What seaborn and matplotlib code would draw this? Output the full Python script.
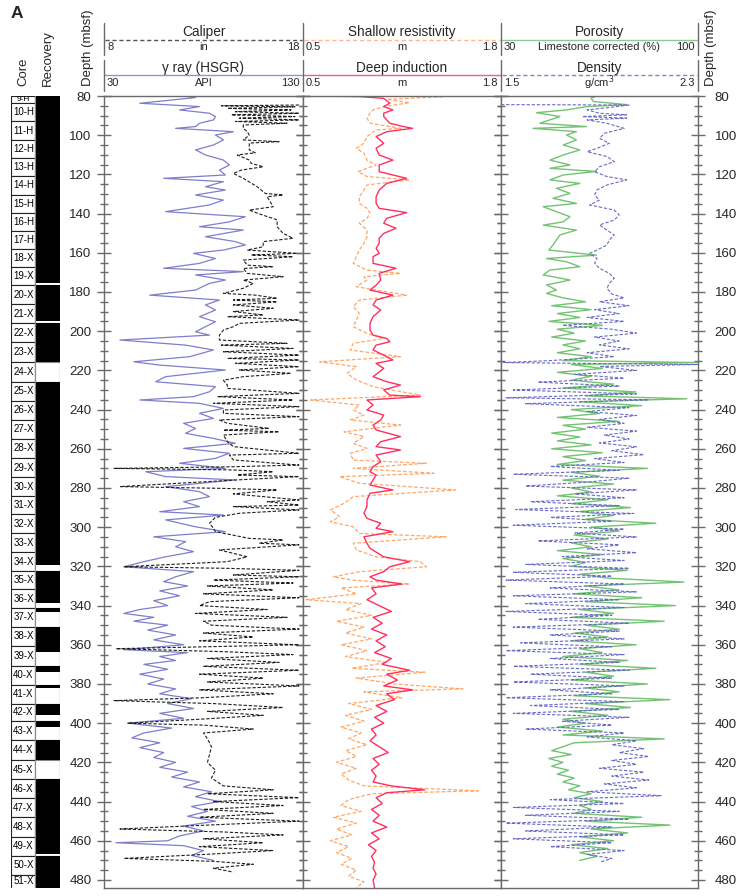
import numpy as np
import seaborn as sns
import matplotlib.pyplot as plt
from matplotlib.ticker import MultipleLocator

# ---- cores ----
core_names = ['9-H', '10-H', '11-H', '12-H', '13-H', '14-H', '15-H', '16-H', '17-H', '18-X',
              '19-X', '20-X', '21-X', '22-X', '23-X', '24-X', '25-X', '26-X', '27-X', '28-X',
              '29-X', '30-X', '31-X', '32-X', '33-X', '34-X', '35-X', '36-X', '37-X', '38-X',
              '39-X', '40-X', '41-X', '42-X', '43-X', '44-X', '45-X', '46-X', '47-X', '48-X',
              '49-X', '50-X', '51-X']
core_top = [80.0, 83.6, 93.0, 102.4, 111.7, 121.0, 130.3, 139.6, 148.9, 158.2,
            167.5, 176.6, 186.2, 195.9, 205.7, 215.9, 225.9, 235.6, 245.3, 255.0,
            264.7, 274.6, 284.2, 293.5, 303.1, 312.8, 322.4, 331.7, 341.2, 350.9,
            360.6, 370.6, 380.4, 390.2, 398.9, 408.6, 418.8, 428.5, 438.2, 447.9,
            457.9, 467.8, 477.4]
core_base = 487.0
core_recovery = [1, 1, 1, 1, 1, 1, 1, 1, 1, 1,
                 0.86, 1, 0.9, 1, 1, 0.0, 1, 1, 1, 1,
                 1, 1, 1, 1, 1, 0.68, 1, 0.74, 0.2, 1,
                 0.3, 0.32, 0.15, 0.65, 0.3, 1, 0.0, 1, 1, 1,
                 0.9, 1, 1]

# ---- logs: (depth mbsf, value) ----
gamma_ray = [(80.0, 70), (80.8, 76), (83.7, 48), (85.4, 78), (87.1, 68), (88.8, 83), (90.5, 86),
             (92.2, 85), (93.9, 78), (95.6, 76), (96.5, 66), (98.2, 95), (99.9, 86), (102.4, 90),
             (105.0, 85), (107.5, 76), (110.1, 81), (112.7, 90), (115.2, 93), (117.8, 88),
             (120.3, 91), (122.0, 60), (123.7, 90), (126.3, 81), (128.0, 91), (130.5, 76),
             (133.1, 90), (135.6, 83), (139.0, 61), (141.6, 101), (144.2, 93), (146.7, 78),
             (148.4, 100), (151.8, 81), (154.3, 96), (156.0, 101), (158.6, 90), (160.3, 75),
             (162.9, 86), (165.4, 78), (167.9, 60), (169.6, 100), (171.3, 76), (173.9, 91),
             (175.6, 83), (179.0, 76), (181.6, 53), (184.1, 88), (186.6, 81), (189.2, 86),
             (192.6, 78), (195.2, 86), (197.7, 81), (200.3, 76), (202.0, 83), (204.5, 38),
             (207.1, 71), (209.6, 85), (213.0, 73), (215.6, 45), (217.3, 58), (219.8, 91),
             (223.2, 61), (225.8, 56), (228.3, 86), (230.9, 83), (233.4, 75), (235.1, 48),
             (236.8, 78), (239.4, 90), (241.9, 78), (244.5, 85), (247.0, 70), (249.6, 76),
             (252.1, 71), (254.7, 85), (257.2, 96), (259.8, 70), (262.3, 93), (264.9, 86),
             (267.4, 68), (270.0, 91), (271.7, 51), (274.2, 61), (275.9, 96), (279.3, 61),
             (281.9, 78), (284.4, 83), (287.0, 70), (289.5, 78), (292.1, 58), (293.8, 90),
             (296.3, 61), (299.8, 76), (302.3, 91), (304.9, 55), (307.4, 71), (310.0, 66),
             (312.5, 75), (315.1, 61), (317.6, 50), (320.2, 40), (322.7, 75), (325.3, 66),
             (327.8, 60), (330.0, 72), (332.5, 58), (335.0, 68), (337.5, 55), (340.0, 62),
             (342.0, 48), (344.0, 40), (346.0, 55), (348.0, 45), (350.0, 62), (352.5, 52),
             (355.0, 66), (357.5, 55), (360.0, 70), (362.5, 40), (364.0, 72), (366.0, 58),
             (368.0, 66), (370.0, 50), (372.5, 62), (375.0, 48), (377.5, 60), (380.0, 52),
             (382.5, 66), (385.0, 58), (387.5, 74), (390.0, 62), (392.5, 75), (395.0, 58),
             (397.5, 70), (400.0, 42), (402.5, 64), (405.0, 50), (407.5, 44), (410.0, 58),
             (412.5, 48), (415.0, 60), (417.5, 55), (420.0, 66), (422.5, 58), (425.0, 72),
             (427.5, 64), (430.0, 78), (432.5, 70), (435.0, 84), (437.5, 76), (440.0, 88),
             (442.5, 74), (445.0, 82), (447.5, 72), (450.0, 86), (452.5, 70), (455.0, 80),
             (457.5, 68), (460.0, 62), (461.0, 36), (462.5, 70), (465.0, 80), (467.5, 74),
             (470.0, 85)]

caliper = [(84.6, 17.8), (85.0, 13.9), (85.5, 17.6), (86.3, 14.2), (87.1, 17.4), (88.0, 14.6),
           (88.8, 17.8), (89.6, 14.4), (90.5, 17.6), (91.3, 14.8), (92.2, 17.8), (93.0, 14.6),
           (93.9, 17.2), (94.8, 15.0), (96.5, 15.0), (98.2, 15.2), (100.0, 15.3), (102.4, 15.0),
           (103.3, 16.8), (104.0, 15.3), (107.5, 15.3), (109.0, 15.6), (110.1, 14.7), (112.7, 15.3),
           (114.4, 15.4), (116.1, 16.0), (117.8, 14.9), (119.5, 14.5), (122.0, 15.0), (126.3, 15.7),
           (129.7, 16.1), (130.5, 17.0), (131.4, 16.2), (136.5, 16.5), (138.2, 15.3), (139.8, 15.7),
           (143.2, 16.7), (146.7, 16.7), (150.1, 17.0), (152.6, 17.5), (154.3, 16.0), (156.9, 16.0),
           (158.6, 15.2), (160.3, 17.7), (161.1, 15.4), (162.0, 17.5), (163.7, 15.0), (166.3, 15.2),
           (167.1, 16.5), (168.0, 15.0), (170.5, 15.2), (172.2, 17.0), (173.9, 15.0), (175.6, 15.5),
           (178.1, 15.0), (180.7, 14.0), (181.6, 15.6), (183.2, 16.7), (184.1, 14.5), (185.0, 16.7),
           (186.6, 14.5), (188.3, 16.5), (190.0, 14.5), (191.7, 16.0), (192.6, 14.2), (194.3, 17.8),
           (196.0, 14.8), (197.7, 14.5), (199.4, 14.0), (202.0, 13.8), (204.5, 13.8), (206.2, 17.2),
           (207.1, 13.9), (208.8, 17.5), (210.5, 14.0), (212.2, 17.8), (213.9, 14.2), (214.7, 17.8),
           (216.4, 14.6), (218.1, 17.8), (219.8, 14.8), (221.5, 17.4), (223.2, 15.0), (225.0, 14.0),
           (227.5, 14.2), (229.2, 14.2), (231.7, 17.8), (233.4, 13.7), (235.1, 17.5), (236.8, 13.5),
           (238.5, 17.8), (240.2, 14.0), (241.9, 14.0), (243.6, 17.8), (245.3, 13.8), (247.0, 14.2),
           (249.6, 16.3), (250.5, 14.0), (251.3, 16.8), (253.0, 14.0), (256.4, 14.2), (258.9, 14.5),
           (262.3, 17.8), (263.2, 14.3), (265.7, 14.5), (268.3, 17.8), (269.2, 14.3), (270.0, 8.5),
           (270.8, 14.5), (271.7, 16.5), (273.4, 14.7), (274.2, 17.8), (276.0, 14.5), (279.3, 8.8),
           (280.2, 14.0), (281.0, 16.7), (283.0, 14.5), (286.1, 17.8), (287.0, 16.2), (288.7, 17.8),
           (289.5, 14.5), (291.2, 17.8), (292.9, 14.8), (295.0, 13.6), (298.0, 13.3), (300.6, 13.5),
           (302.3, 13.6), (305.7, 15.3), (306.5, 17.0), (308.2, 15.8), (309.0, 17.8), (311.6, 13.8),
           (315.1, 15.2), (317.6, 14.2), (320.2, 9.0), (321.0, 14.2), (322.0, 17.8), (324.4, 14.5),
           (325.3, 17.8), (327.0, 13.5), (328.5, 17.5), (330.0, 13.2), (332.0, 16.5), (334.0, 13.0),
           (336.0, 17.8), (338.0, 13.3), (340.0, 12.8), (342.0, 16.2), (344.0, 12.6), (346.0, 17.2),
           (348.0, 13.0), (350.0, 13.4), (352.0, 17.8), (354.0, 13.0), (356.0, 15.5), (358.0, 12.8),
           (360.0, 17.8), (362.0, 8.6), (363.5, 14.0), (365.0, 17.5), (367.0, 13.2), (369.0, 16.8),
           (371.0, 13.0), (373.0, 17.8), (375.0, 12.8), (377.0, 16.0), (379.0, 13.2), (381.0, 17.8),
           (383.0, 12.8), (385.0, 16.5), (387.0, 13.0), (388.5, 8.5), (390.0, 13.5), (392.0, 17.0),
           (394.0, 13.2), (396.0, 16.0), (398.0, 12.8), (400.0, 9.2), (401.0, 13.0), (403.0, 15.5),
           (405.0, 13.0), (408.0, 13.2), (412.0, 13.4), (416.0, 13.3), (420.0, 13.2), (424.0, 13.6),
           (428.0, 13.4), (432.0, 14.0), (434.0, 16.5), (436.0, 13.2), (438.0, 17.8), (440.0, 13.5),
           (442.0, 17.0), (444.0, 13.0), (446.0, 16.5), (448.0, 12.8), (450.0, 17.8), (452.0, 13.2),
           (454.0, 8.8), (455.5, 14.0), (457.0, 17.0), (459.0, 13.0), (461.0, 16.0), (463.0, 12.8),
           (465.0, 16.5), (467.0, 13.0), (469.0, 9.0), (470.5, 13.5), (472.0, 15.5), (474.0, 13.5),
           (476.0, 14.5)]

shallow_res = [(80.4, 1.42), (81.7, 1.05), (83.4, 1.20), (85.4, 1.03), (87.1, 0.96), (88.8, 0.94),
               (91.3, 0.92), (93.9, 0.94), (96.5, 1.14), (97.3, 0.98), (100.7, 0.92), (104.1, 0.90),
               (106.7, 0.85), (109.2, 0.90), (112.7, 0.92), (115.2, 0.98), (118.6, 0.86), (121.1, 0.92),
               (122.8, 1.20), (125.4, 0.92), (128.0, 0.90), (131.4, 0.87), (134.8, 0.87), (137.3, 0.92),
               (139.9, 0.94), (142.4, 0.92), (144.9, 0.87), (148.4, 0.92), (151.8, 0.92), (155.2, 0.90),
               (158.6, 0.87), (162.0, 0.85), (165.4, 0.83), (168.8, 0.92), (170.5, 1.14), (172.2, 0.90),
               (173.9, 0.92), (177.3, 0.85), (181.6, 1.18), (184.1, 0.87), (187.5, 0.83), (190.9, 0.87),
               (194.3, 0.85), (197.7, 0.83), (201.1, 0.92), (203.7, 1.03), (206.2, 0.83), (209.6, 0.81),
               (213.0, 1.14), (215.6, 0.61), (218.1, 0.85), (221.5, 0.79), (224.9, 0.85), (228.3, 0.96),
               (232.6, 1.27), (235.1, 0.55), (237.7, 0.87), (240.2, 0.83), (242.8, 0.90), (245.3, 0.81),
               (247.9, 1.14), (251.3, 0.77), (253.8, 0.90), (257.2, 0.83), (259.8, 0.92), (262.3, 0.81),
               (265.8, 0.83), (267.4, 1.31), (270.0, 0.83), (272.5, 1.36), (274.2, 0.74), (277.6, 0.87),
               (281.0, 1.50), (284.4, 0.83), (287.8, 0.77), (291.2, 0.68), (294.6, 0.74), (297.2, 0.68),
               (299.8, 0.83), (303.2, 0.87), (304.9, 1.44), (308.2, 0.83), (311.6, 0.85), (315.1, 0.98),
               (317.6, 1.27), (320.2, 1.31), (322.7, 0.87), (325.3, 0.70), (327.0, 0.82), (329.0, 1.20),
               (331.0, 0.75), (334.0, 0.85), (337.0, 0.52), (339.0, 0.88), (342.0, 0.78), (345.0, 0.95),
               (348.0, 0.72), (351.0, 0.90), (354.0, 0.78), (357.0, 0.95), (360.0, 0.75), (363.0, 0.92),
               (366.0, 0.78), (369.0, 1.05), (372.0, 0.82), (374.0, 1.30), (377.0, 0.85), (380.0, 1.10),
               (382.5, 1.55), (384.0, 0.90), (387.0, 1.15), (390.0, 0.80), (393.0, 0.95), (396.0, 0.78),
               (399.0, 0.90), (402.0, 0.75), (405.0, 0.88), (408.0, 0.80), (411.0, 0.92), (414.0, 0.78),
               (417.0, 0.85), (420.0, 0.72), (423.0, 0.85), (426.0, 0.75), (429.0, 0.80), (432.0, 0.90),
               (434.5, 1.65), (436.0, 0.95), (439.0, 0.80), (442.0, 0.75), (445.0, 0.88), (448.0, 0.70),
               (451.0, 0.85), (454.0, 0.72), (457.0, 0.82), (460.0, 0.68), (463.0, 0.80), (466.0, 0.72),
               (469.0, 0.82), (472.0, 0.75), (475.0, 0.85), (478.0, 0.80), (481.0, 0.90), (484.0, 0.85)]

deep_ind = [(80.0, 0.50), (80.3, 0.87), (81.2, 1.03), (83.7, 1.07), (85.4, 1.03), (87.1, 1.09),
            (88.8, 1.03), (90.5, 1.03), (93.9, 1.07), (95.6, 1.16), (96.5, 1.22), (98.2, 1.05),
            (100.7, 0.98), (104.1, 1.03), (106.7, 0.98), (110.1, 1.00), (112.7, 1.09), (115.2, 1.00),
            (118.6, 1.00), (122.0, 1.18), (124.6, 1.05), (128.0, 1.00), (131.4, 0.98), (134.8, 0.98),
            (137.3, 1.00), (139.5, 1.18), (142.4, 1.05), (144.9, 1.03), (147.5, 1.11), (150.1, 1.03),
            (152.6, 1.00), (155.2, 1.00), (157.7, 0.98), (160.3, 1.00), (162.0, 0.96), (165.4, 0.96),
            (167.9, 1.11), (170.5, 1.00), (173.9, 1.01), (176.5, 0.98), (179.0, 0.94), (181.6, 1.09),
            (184.1, 0.98), (186.6, 0.96), (189.2, 1.01), (192.6, 0.96), (196.0, 0.94), (199.4, 0.94),
            (202.0, 0.96), (203.7, 1.05), (205.4, 1.07), (207.1, 0.98), (209.6, 0.96), (213.0, 1.05),
            (214.7, 1.09), (216.4, 0.98), (219.0, 1.03), (223.2, 0.96), (225.8, 1.05), (227.5, 1.14),
            (230.0, 1.03), (232.6, 1.07), (233.4, 1.27), (235.1, 0.92), (237.7, 0.96), (240.2, 0.92),
            (242.8, 1.03), (245.3, 1.01), (247.9, 0.96), (250.4, 0.98), (253.8, 1.14), (256.4, 1.01),
            (258.9, 0.98), (260.6, 1.14), (263.2, 0.98), (266.6, 1.01), (269.1, 0.96), (271.7, 0.94),
            (273.4, 0.98), (275.9, 0.96), (278.5, 0.94), (281.0, 1.09), (282.7, 0.94), (286.1, 0.92),
            (289.5, 0.92), (292.9, 0.90), (295.5, 0.92), (298.0, 1.01), (300.6, 0.98), (302.3, 1.09),
            (304.9, 0.90), (308.2, 0.92), (310.8, 0.94), (315.1, 1.03), (317.6, 1.20), (320.2, 1.07),
            (322.7, 1.03), (325.3, 0.94), (327.0, 0.98), (329.0, 1.15), (331.0, 0.95), (334.0, 0.98),
            (337.0, 0.92), (340.0, 1.00), (343.0, 1.08), (346.0, 0.96), (349.0, 1.02), (352.0, 0.95),
            (355.0, 1.05), (358.0, 0.98), (361.0, 1.04), (364.0, 0.97), (367.0, 1.08), (370.0, 1.02),
            (373.0, 1.20), (375.0, 1.05), (378.0, 1.12), (381.0, 1.03), (383.0, 1.22), (385.0, 1.05),
            (388.0, 1.10), (391.0, 0.98), (394.0, 1.05), (397.0, 0.97), (400.0, 1.03), (403.0, 0.95),
            (406.0, 0.98), (409.0, 0.94), (412.0, 1.00), (415.0, 1.06), (418.0, 0.96), (421.0, 1.00),
            (424.0, 0.95), (427.0, 0.98), (430.0, 0.96), (432.0, 1.08), (434.0, 1.30), (435.5, 1.05),
            (438.0, 0.98), (441.0, 1.02), (444.0, 0.95), (447.0, 1.00), (450.0, 0.96), (453.0, 1.05),
            (456.0, 0.95), (459.0, 1.00), (462.0, 0.93), (465.0, 0.98), (468.0, 0.95), (471.0, 0.97),
            (474.0, 0.96), (477.0, 0.98), (480.0, 0.96), (484.0, 0.97)]

porosity = [(80.0, 63.9), (81.2, 62.0), (82.8, 62.8), (84.4, 74.6), (85.4, 60.4), (87.1, 53.3),
            (88.5, 42.6), (90.5, 50.9), (92.2, 47.4), (93.9, 43.8), (95.6, 60.4), (96.5, 41.4),
            (98.2, 56.8), (99.9, 53.3), (102.4, 56.8), (105.0, 52.1), (107.5, 58.0), (110.1, 52.1),
            (112.7, 47.4), (115.2, 54.5), (116.9, 47.4), (118.5, 63.9), (120.3, 52.1), (122.8, 47.4),
            (124.6, 58.0), (127.1, 49.7), (129.7, 54.5), (132.2, 48.5), (134.8, 56.8), (136.5, 45.0),
            (139.0, 49.7), (141.6, 54.5), (144.2, 52.1), (145.9, 45.0), (148.4, 56.8), (150.9, 50.9),
            (153.5, 49.7), (156.0, 48.5), (158.6, 47.0), (161.2, 63.9), (162.9, 46.2), (164.6, 53.3),
            (167.1, 58.0), (168.8, 47.4), (171.3, 45.0), (173.9, 54.5), (176.4, 46.2), (179.0, 49.7),
            (180.7, 46.2), (183.0, 52), (185.0, 60), (187.0, 48), (189.0, 62), (191.0, 50), (193.0, 58),
            (195.0, 47), (197.0, 66), (199.0, 50), (201.0, 56), (203.0, 48), (205.0, 60), (207.0, 52),
            (209.0, 58), (211.0, 50), (213.0, 62), (215.0, 52), (216.0, 100), (217.0, 55), (219.0, 66),
            (221.0, 50), (223.0, 62), (225.0, 55), (227.0, 70), (229.0, 52), (231.0, 78), (233.0, 60),
            (234.5, 96), (236.0, 58), (238.0, 80), (240.0, 55), (242.0, 65), (244.0, 50), (246.0, 72),
            (248.0, 52), (250.0, 60), (252.0, 48), (254.0, 58), (256.0, 50), (258.0, 62), (260.0, 48),
            (262.0, 66), (264.0, 52), (266.0, 60), (268.0, 50), (270.0, 82), (272.0, 55), (274.0, 65),
            (276.0, 52), (278.0, 70), (280.0, 55), (282.0, 62), (284.0, 50), (286.0, 68), (288.0, 55),
            (290.0, 76), (292.0, 58), (294.0, 70), (296.0, 60), (298.0, 85), (300.0, 62), (302.0, 72),
            (304.0, 56), (306.0, 68), (308.0, 55), (310.0, 62), (312.0, 50), (314.0, 66), (316.0, 52),
            (318.0, 60), (320.0, 55), (322.0, 75), (324.0, 58), (326.0, 68), (328.0, 95), (330.0, 60),
            (332.0, 72), (334.0, 56), (336.0, 80), (338.0, 60), (340.0, 92), (342.0, 58), (344.0, 70),
            (346.0, 55), (348.0, 88), (350.0, 60), (352.0, 72), (354.0, 56), (356.0, 68), (358.0, 55),
            (360.0, 78), (362.0, 58), (364.0, 66), (366.0, 52), (368.0, 75), (370.0, 58), (372.0, 85),
            (374.0, 60), (376.0, 70), (378.0, 55), (380.0, 82), (382.0, 60), (384.0, 72), (386.0, 56),
            (388.0, 90), (390.0, 60), (392.0, 76), (394.0, 55), (396.0, 68), (398.0, 52), (400.0, 60),
            (402.0, 50), (404.0, 66), (406.0, 52), (408.0, 88), (410.0, 56), (412.0, 52), (414.0, 48),
            (416.0, 55), (418.0, 47), (420.0, 52), (422.0, 48), (424.0, 54), (426.0, 50), (428.0, 56),
            (430.0, 52), (432.0, 58), (434.0, 54), (436.0, 62), (438.0, 56), (440.0, 66), (442.0, 58),
            (444.0, 62), (446.0, 56), (448.0, 80), (450.0, 60), (452.0, 90), (454.0, 62), (456.0, 75),
            (458.0, 58), (460.0, 70), (462.0, 55), (464.0, 68), (466.0, 58), (468.0, 64), (470.0, 58)]

density = [(84.4, 1.50), (84.6, 2.02), (85.4, 1.97), (87.1, 1.85), (88.8, 1.90), (89.6, 2.01),
           (90.5, 1.83), (91.3, 2.01), (92.2, 1.85), (93.9, 1.93), (96.5, 2.00), (99.0, 1.92),
           (101.6, 1.90), (104.1, 1.94), (106.7, 1.89), (108.4, 1.85), (110.9, 1.93), (113.5, 1.96),
           (116.1, 1.90), (118.6, 1.88), (121.1, 1.93), (122.8, 2.01), (125.4, 1.93), (127.9, 1.89),
           (130.5, 1.88), (133.1, 1.90), (135.6, 1.86), (138.2, 1.96), (140.7, 1.98), (143.3, 1.96),
           (145.8, 1.90), (148.4, 1.93), (150.9, 1.96), (153.5, 1.94), (156.0, 1.93), (158.6, 1.89),
           (160.3, 1.86), (162.9, 1.89), (165.4, 1.88), (167.9, 1.90), (170.5, 1.94), (173.0, 1.96),
           (175.6, 1.94), (178.1, 1.93), (181.0, 1.95), (183.0, 2.00), (185.0, 1.90), (187.0, 2.02),
           (189.0, 1.88), (191.0, 1.98), (193.0, 1.85), (195.0, 2.00), (197.0, 1.75), (199.0, 1.95),
           (201.0, 2.05), (203.0, 1.88), (205.0, 1.98), (207.0, 1.90), (209.0, 2.02), (211.0, 1.85),
           (213.0, 1.96), (215.0, 1.70), (216.0, 1.51), (217.0, 2.30), (218.0, 1.90), (220.0, 2.05),
           (222.0, 1.80), (224.0, 2.00), (226.0, 1.65), (228.0, 1.98), (230.0, 1.55), (232.0, 2.05),
           (234.0, 1.52), (235.0, 2.10), (237.0, 1.60), (239.0, 2.02), (241.0, 1.85), (243.0, 2.05),
           (245.0, 1.90), (247.0, 2.00), (249.0, 1.85), (251.0, 2.05), (253.0, 1.92), (255.0, 2.02),
           (257.0, 1.90), (259.0, 2.05), (261.0, 1.95), (263.0, 2.08), (265.0, 1.88), (267.0, 2.00),
           (269.0, 1.70), (271.0, 1.98), (273.0, 1.55), (275.0, 2.02), (277.0, 1.85), (279.0, 1.60),
           (281.0, 2.05), (283.0, 1.80), (285.0, 2.00), (287.0, 1.62), (289.0, 1.98), (291.0, 1.56),
           (293.0, 2.04), (295.0, 1.70), (297.0, 1.95), (299.0, 1.55), (301.0, 2.00), (303.0, 1.80),
           (305.0, 2.05), (307.0, 1.65), (309.0, 1.98), (311.0, 1.85), (313.0, 2.05), (315.0, 1.75),
           (317.0, 2.00), (319.0, 1.60), (321.0, 2.02), (323.0, 1.55), (325.0, 1.95), (327.0, 1.52),
           (329.0, 2.00), (331.0, 1.70), (333.0, 2.05), (335.0, 1.55), (337.0, 1.98), (339.0, 1.60),
           (341.0, 2.00), (343.0, 1.52), (345.0, 1.95), (347.0, 1.65), (349.0, 2.02), (351.0, 1.55),
           (353.0, 1.98), (355.0, 1.70), (357.0, 2.00), (359.0, 1.58), (361.0, 1.95), (363.0, 1.52),
           (365.0, 2.00), (367.0, 1.70), (369.0, 1.98), (371.0, 1.55), (373.0, 2.02), (375.0, 1.62),
           (377.0, 1.95), (379.0, 1.55), (381.0, 2.00), (383.0, 1.70), (385.0, 1.95), (387.0, 1.52),
           (389.0, 2.00), (391.0, 1.62), (393.0, 1.98), (395.0, 1.55), (397.0, 2.02), (399.0, 1.75),
           (401.0, 1.95), (403.0, 1.60), (405.0, 2.00), (407.0, 1.85), (409.0, 2.05), (411.0, 1.95),
           (413.0, 2.08), (415.0, 1.98), (417.0, 2.10), (419.0, 1.95), (421.0, 2.05), (423.0, 1.90),
           (425.0, 2.08), (427.0, 1.95), (429.0, 2.10), (431.0, 1.92), (433.0, 2.05), (435.0, 1.85),
           (437.0, 2.15), (439.0, 1.70), (441.0, 2.00), (443.0, 1.55), (445.0, 1.98), (447.0, 1.60),
           (449.0, 2.02), (451.0, 1.52), (453.0, 1.95), (455.0, 1.60), (457.0, 2.00), (459.0, 1.55),
           (461.0, 1.95), (463.0, 1.70), (465.0, 2.00), (467.0, 1.85), (469.0, 1.95), (471.0, 1.90)]

TOP, BOTTOM = 80, 484.1
W, H = 738, 896

sns.set_style('white')
plt.rcParams['font.family'] = ['Liberation Sans', 'DejaVu Sans']
fig = plt.figure(figsize=(W / 100, H / 100), dpi=100)


def px_axes(x0, x1, y0=96, y1=888, **kw):
    return fig.add_axes([x0 / W, 1 - y1 / H, (x1 - x0) / W, (y1 - y0) / H], **kw)


def draw_log(ax, log, color, lw, ls='-'):
    d, v = zip(*log)
    sns.lineplot(x=list(v), y=list(d), sort=False, estimator=None, ax=ax,
                 color=color, lw=lw, linestyle=ls)


def no_xaxis(ax):
    ax.set_xticks([])
    ax.set_xlabel('')
    ax.set_ylabel('')


frame = '#6a6a6a'
tracks = [(104, 303), (303, 501), (501, 698)]
axes = []
for i, (x0, x1) in enumerate(tracks):
    ax = px_axes(x0, x1)
    for s in ax.spines.values():
        s.set_color(frame)
        s.set_linewidth(1)
    axes.append(ax)

ax1, ax2, ax3 = axes

# track 1: gamma + caliper
ax1.set_xlim(30, 130)
draw_log(ax1, gamma_ray, '#7e7ecb', 0.9)
ax1c = ax1.twiny()
ax1c.set_xlim(8, 18)
draw_log(ax1c, caliper, '#1e1e1e', 0.8, (0, (3, 1.6)))

# track 2: resistivities
ax2.set_xlim(0.5, 1.8)
draw_log(ax2, shallow_res, '#ffa766', 0.9, (0, (3, 1.6)))
draw_log(ax2, deep_ind, '#ff2f5f', 1.0)

# track 3: porosity + density
ax3.set_xlim(30, 100)
draw_log(ax3, porosity, '#74c274', 1.0)
ax3d = ax3.twiny()
ax3d.set_xlim(1.5, 2.3)
draw_log(ax3d, density, '#6a6ac4', 0.8, (0, (3, 1.6)))

for t in (ax1c, ax3d):
    no_xaxis(t)
    for s in t.spines.values():
        s.set_visible(False)

for i, ax in enumerate(axes):
    no_xaxis(ax)
    ax.set_ylim(BOTTOM, TOP)
    ax.yaxis.set_major_locator(MultipleLocator(20))
    ax.yaxis.set_minor_locator(MultipleLocator(5))
    ax.tick_params(axis='y', which='both', left=True, right=True, direction='inout',
                   color=frame, width=1, labelleft=(i == 0), labelright=(i == 2),
                   labelsize=9.5, pad=4 if i == 0 else 7)
    ax.tick_params(axis='y', which='major', length=10)
    ax.tick_params(axis='y', which='minor', length=6)
    ax.tick_params(axis='x', which='both', bottom=False, top=False,
                   labelbottom=False, labeltop=False)

# ---- core / recovery column ----
axc = px_axes(11, 60)
axc.set_xlim(0, 49)
axc.set_ylim(BOTTOM, TOP)
axc.axis('off')
tops = np.array(core_top)
lengths = np.diff(np.append(tops, core_base))
rec = np.array(core_recovery)
axc.barh(tops, 24, height=lengths, left=0, align='edge', color='white',
         edgecolor='#222222', linewidth=0.8)
axc.barh(tops, 25, height=lengths, left=24, align='edge', color='white',
         edgecolor='#8a8a8a', linewidth=0.8)
axc.barh(tops, 25, height=lengths * rec, left=24, align='edge', color='black', linewidth=0)
axc.plot([24, 24], [TOP, BOTTOM], color='#8a8a8a', lw=0.8)
axc.plot([49, 49], [TOP, BOTTOM], color='#8a8a8a', lw=0.8)
for name, t, ln in zip(core_names, tops, lengths):
    mid = t + min(ln, BOTTOM - t) / 2
    axc.text(12.5, mid, name, ha='center', va='center', fontsize=7 if name != '9-H' else 6,
             color='black')

# ---- header ----
bg = fig.add_axes([0, 0, 1, 1], zorder=-5)
bg.set_xlim(0, W)
bg.set_ylim(H, 0)
bg.axis('off')

bg.text(11, 13, 'A', fontsize=12.5, fontweight='bold', ha='left', va='center')
bg.text(23, 86, 'Core', rotation=90, ha='center', va='bottom', fontsize=9.5)
bg.text(48, 86, 'Recovery', rotation=90, ha='center', va='bottom', fontsize=9.5)
bg.text(88, 86, 'Depth (mbsf)', rotation=90, ha='center', va='bottom', fontsize=9.5)
bg.text(711, 86, 'Depth (mbsf)', rotation=90, ha='center', va='bottom', fontsize=9.5)

header_rows = [
    [('Caliper', 'in', '8', '18', '#555555', (0, (3, 2))),
     ('Shallow resistivity', 'm', '0.5', '1.8', '#ffb88e', (0, (3, 2))),
     ('Porosity', 'Limestone corrected (%)', '30', '100', '#8fc88f', '-')],
    [('\u03b3 ray (HSGR)', 'API', '30', '130', '#9393cf', '-'),
     ('Deep induction', 'm', '0.5', '1.8', '#f2607f', '-'),
     ('Density', 'g/cm$^3$', '1.5', '2.3', '#8484c6', (0, (3, 2)))],
]
row_y = [(32, 40, 47, 23, 55), (68, 75.5, 83, 60, 91)]
for row, (ty, ly, uy, vy0, vy1) in zip(header_rows, row_y):
    for (x0, x1), (title, unit, lo, hi, col, ls) in zip(tracks, row):
        cx = (x0 + x1) / 2
        bg.text(cx, ty, title, ha='center', va='center', fontsize=9.8)
        bg.plot([x0 + 1, x1 - 1], [ly, ly], color=col, lw=1.0, linestyle=ls)
        bg.text(x0 + 3, uy, lo, ha='left', va='center', fontsize=8)
        bg.text(cx, uy, unit, ha='center', va='center', fontsize=8)
        bg.text(x1 - 3, uy, hi, ha='right', va='center', fontsize=8)
    for x in (104, 303, 501, 698):
        bg.plot([x, x], [vy0, vy1], color=frame, lw=1.0)

fig.savefig('out.png', dpi=100)
